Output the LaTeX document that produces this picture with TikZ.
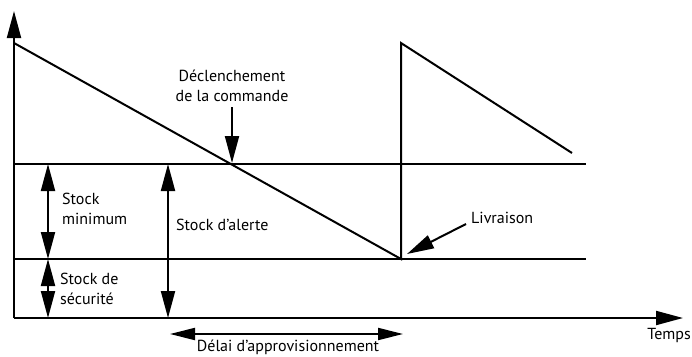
\documentclass[tikz,border=0pt]{standalone}
\usepackage{fontspec}
\setmainfont{PT Sans}
\usetikzlibrary{arrows.meta}
\begin{document}
\begin{tikzpicture}[x=1pt,y=-1pt,
  ln/.style={line width=2pt, line cap=butt},
  tipA/.tip={Triangle[length=27pt,width=14pt]},
  tipB/.tip={Triangle[length=25pt,width=12pt]},
  lbl/.style={inner sep=0pt, font=\fontsize{16}{19.5}\selectfont}]
\useasboundingbox (0,0) rectangle (692,356);
% key points
\coordinate (O) at (14,318);
\coordinate (Ytop) at (14,11);
\coordinate (Xend) at (683,318);
\coordinate (A) at (14,43);
\coordinate (B) at (401,259);
\coordinate (C) at (401,43);
\coordinate (D) at (572,153);
\coordinate (H1l) at (14,164);
\coordinate (H1r) at (586,164);
\coordinate (H2l) at (14,259);
\coordinate (H2r) at (586,259);
% axes
\draw[ln,-tipA] (O) -- (Ytop);
\draw[ln,-tipA] (O) -- (Xend);
% levels
\draw[ln] (H1l) -- (H1r);
\draw[ln] (H2l) -- (H2r);
% saw tooth
\draw[ln,line join=miter] (A) -- (B) -- (C) -- (D);
% measurement arrows
\coordinate (m1) at (48,164);
\coordinate (m2) at (48,259);
\coordinate (m3) at (48,318);
\coordinate (a1) at (168,164);
\coordinate (a2) at (168,318);
\coordinate (d1) at (170,334);
\coordinate (d2) at (403,334);
\draw[ln,tipA-tipA] (m1) -- (m2);
\draw[ln,tipA-tipA] (m2) -- (m3);
\draw[ln,tipA-tipA] (a1) -- (a2);
\draw[ln,tipB-tipB] (d1) -- (d2);
% labels
\node[lbl,align=center] (decl) at (232,86) {Déclenchement\\de la commande};
\coordinate (declS) at (232,107);
\coordinate (declT) at (232,163);
\draw[ln,-tipA] (declS) -- (declT);
\node[lbl,align=left,anchor=west] (smin) at (62,209) {Stock\\minimum};
\node[lbl,align=left,anchor=west] (ssec) at (60,289) {Stock de\\sécurité};
\node[lbl,anchor=base west] (sal) at (176,230) {Stock d’alerte};
\node[lbl,anchor=base] (delai) at (288,351) {Délai d’approvisionnement};
\node[lbl,anchor=base east] (temps) at (691,339) {Temps};
\node[lbl,anchor=base west] (liv) at (471,223) {Livraison};
\coordinate (livS) at (466,224);
\coordinate (livT) at (407,254);
\draw[ln,-tipA] (livS) -- (livT);
\end{tikzpicture}
\end{document}
